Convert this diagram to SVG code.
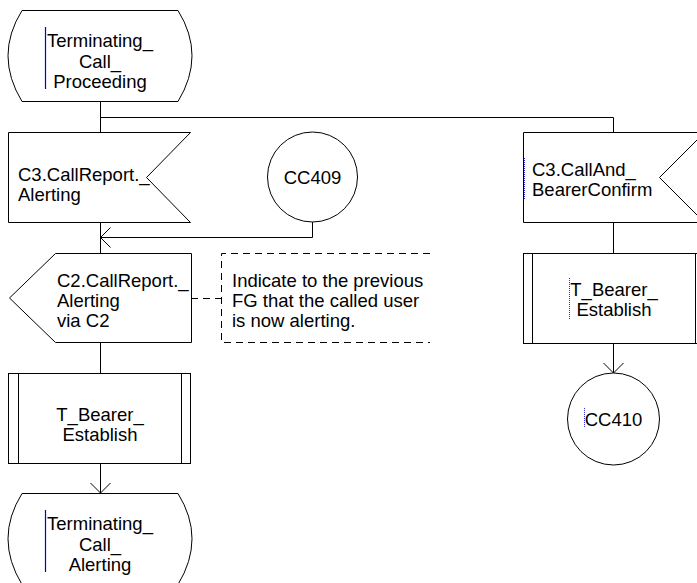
<svg xmlns="http://www.w3.org/2000/svg" width="697" height="583" viewBox="0 0 697 583">
<style>
.s{fill:#fff;stroke:#000;stroke-width:1}
.l{fill:none;stroke:#000;stroke-width:1}
.d{fill:none;stroke:#000;stroke-width:1;stroke-dasharray:7,5}
.t{font-family:"Liberation Sans",Arial,sans-serif;font-size:18.5px;fill:#000}
.c{text-anchor:middle}
.bb{stroke:#0000d0;stroke-width:1.2}
.bd{stroke:#3030e0;stroke-width:1;stroke-dasharray:1,1}
</style>
<rect width="697" height="583" fill="#fff"/>
<g id="connectors">
<path class="l" d="M100.5,101 V132 M100.5,117.5 H613.5 V132"/>
<path class="l" d="M100.5,222 V253"/>
<path class="l" d="M312.5,222 V237.5 H100.5 M110.5,227.5 L100.5,237.5 L110.5,247.5"/>
<path class="d" d="M191,298.5 H221"/>
<path class="l" d="M100.5,342 V373"/>
<path class="l" d="M100.5,464 V493 M90.5,483 L100.5,493 L110.5,483"/>
<path class="l" d="M613.5,222 V253"/>
<path class="l" d="M613.5,343 V373 M603.5,363 L613.5,373 L623.5,363"/>
</g>
<g id="state_top">
<path class="s" d="M22,10.5 H178 Q206,55.5 178,101.5 H22 Q-6,55.5 22,10.5 Z"/>
<line class="bb" x1="45.5" y1="27" x2="45.5" y2="89"/>
<text class="t c" x="100" y="47">Terminating_</text>
<text class="t c" x="100" y="67.5">Call_</text>
<text class="t c" x="100" y="88">Proceeding</text>
</g>
<g id="input_alerting">
<path class="s" d="M8.5,132.5 H190.5 L146.5,177.5 L190.5,222.5 H8.5 Z"/>
<text class="t" x="18" y="181">C3.CallReport._</text>
<text class="t" x="18" y="201">Alerting</text>
</g>
<g id="cc409">
<circle class="s" cx="312.5" cy="177" r="45"/>
<text class="t c" x="312.5" y="183.5">CC409</text>
</g>
<g id="output_alerting">
<path class="s" d="M55.5,253.5 H191.5 V342.5 H55.5 L9.5,298 Z"/>
<text class="t" x="57" y="287">C2.CallReport._</text>
<text class="t" x="57" y="307">Alerting</text>
<text class="t" x="57" y="327">via C2</text>
</g>
<g id="comment">
<path class="d" d="M430,253.5 H221.5 V342.5 H430"/>
<text class="t" x="232" y="287">Indicate to the previous</text>
<text class="t" x="232" y="307">FG that the called user</text>
<text class="t" x="232" y="327">is now alerting.</text>
</g>
<g id="proc_left">
<rect class="s" x="8.5" y="373.5" width="182" height="90"/>
<path class="l" d="M18.5,373.5 V463.5 M181.5,373.5 V463.5"/>
<text class="t c" x="100" y="421">T_Bearer_</text>
<text class="t c" x="100" y="441">Establish</text>
</g>
<g id="state_bottom">
<path class="s" d="M22,493.5 H178 Q206,538.5 178,584.5 H22 Q-6,538.5 22,493.5 Z"/>
<line class="bb" x1="45.5" y1="510" x2="45.5" y2="572"/>
<text class="t c" x="100" y="530">Terminating_</text>
<text class="t c" x="100" y="550.5">Call_</text>
<text class="t c" x="100" y="571">Alerting</text>
</g>
<g id="input_confirm">
<path class="s" d="M523.5,132.5 H704.5 L659.5,177.5 L704.5,222.5 H523.5 Z"/>
<line class="bd" x1="524.5" y1="158" x2="524.5" y2="199"/>
<text class="t" x="532" y="176">C3.CallAnd_</text>
<text class="t" x="532" y="196">BearerConfirm</text>
</g>
<g id="proc_right">
<rect class="s" x="523.5" y="253.5" width="182" height="90"/>
<path class="l" d="M532.5,253.5 V343.5 M695.5,253.5 V343.5"/>
<line class="bd" x1="569.5" y1="278" x2="569.5" y2="320"/>
<text class="t c" x="614" y="296">T_Bearer_</text>
<text class="t c" x="614" y="316">Establish</text>
</g>
<g id="cc410">
<circle class="s" cx="613.5" cy="419" r="46"/>
<line class="bd" x1="584.5" y1="408" x2="584.5" y2="427"/>
<text class="t c" x="613.5" y="425.5">CC410</text>
</g>
</svg>
